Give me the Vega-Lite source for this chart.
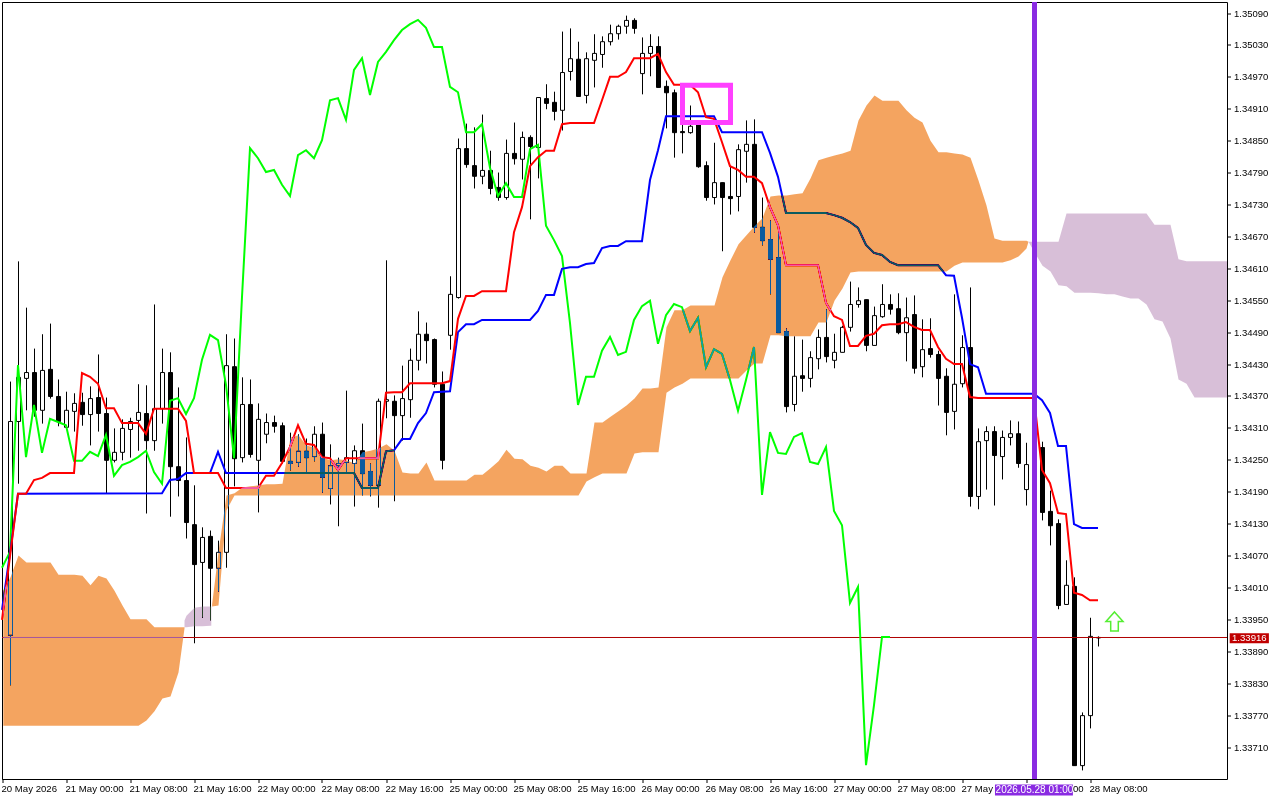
{"$schema":"https://vega.github.io/schema/vega-lite/v6.json","width":1225,"height":777,"autosize":{"type":"none"},"padding":{"left":2,"top":2,"right":53,"bottom":21},"background":"#ffffff","config":{"view":{"stroke":"#000000","strokeWidth":1},"axis":{"labelFont":"Liberation Sans","labelColor":"#000000","tickColor":"#000000","tickSize":4,"domain":false,"grid":false,"title":null,"translate":0,"labelOverlap":false,"labelSeparation":0}},
"datasets":{
"candles":[
{"i":1,"o":1.33921,"h":1.34398,"l":1.33827,"c":1.34323},{"i":2,"o":1.34323,"h":1.34624,"l":1.34206,"c":1.34406},{"i":3,"o":1.34404,"h":1.34537,"l":1.34344,"c":1.34415},{"i":4,"o":1.34415,"h":1.3446,"l":1.34332,"c":1.34344},{"i":5,"o":1.34344,"h":1.34487,"l":1.34319,"c":1.34419},{"i":6,"o":1.34421,"h":1.34507,"l":1.34366,"c":1.3437},{"i":7,"o":1.3437,"h":1.34402,"l":1.34314,"c":1.34323},{"i":8,"o":1.34312,"h":1.34379,"l":1.34312,"c":1.34344},{"i":9,"o":1.34342,"h":1.34376,"l":1.34304,"c":1.34357},{"i":10,"o":1.34359,"h":1.34377,"l":1.34315,"c":1.34336},
{"i":11,"o":1.34336,"h":1.34389,"l":1.34278,"c":1.34366},{"i":12,"o":1.34368,"h":1.34449,"l":1.34304,"c":1.34338},{"i":13,"o":1.34338,"h":1.34368,"l":1.34188,"c":1.3425},{"i":14,"o":1.3425,"h":1.3431,"l":1.34246,"c":1.34265},{"i":15,"o":1.34265,"h":1.34327,"l":1.3425,"c":1.3431},{"i":16,"o":1.34308,"h":1.3433,"l":1.34255,"c":1.34323},{"i":17,"o":1.34325,"h":1.34393,"l":1.34268,"c":1.3434},{"i":18,"o":1.34338,"h":1.34391,"l":1.3415,"c":1.34287},{"i":19,"o":1.34287,"h":1.34543,"l":1.34268,"c":1.34347},{"i":20,"o":1.34347,"h":1.3446,"l":1.34319,"c":1.34415},
{"i":21,"o":1.34415,"h":1.34453,"l":1.34144,"c":1.34238},{"i":22,"o":1.34238,"h":1.34387,"l":1.34182,"c":1.34212},{"i":23,"o":1.34212,"h":1.34293,"l":1.34103,"c":1.34133},{"i":24,"o":1.34129,"h":1.34203,"l":1.33906,"c":1.34054},{"i":25,"o":1.34058,"h":1.34124,"l":1.33954,"c":1.34105},{"i":26,"o":1.34107,"h":1.34118,"l":1.33949,"c":1.34047},{"i":27,"o":1.34047,"h":1.34099,"l":1.34003,"c":1.34077},{"i":28,"o":1.34077,"h":1.34487,"l":1.34048,"c":1.34428},{"i":29,"o":1.34426,"h":1.34479,"l":1.34201,"c":1.34253},{"i":30,"o":1.34255,"h":1.34406,"l":1.34246,"c":1.34355},
{"i":31,"o":1.34355,"h":1.34402,"l":1.34255,"c":1.34261},{"i":32,"o":1.3425,"h":1.34357,"l":1.34152,"c":1.34327},{"i":33,"o":1.34299,"h":1.34338,"l":1.34282,"c":1.34321},{"i":34,"o":1.34321,"h":1.34334,"l":1.34302,"c":1.34314},{"i":35,"o":1.34315,"h":1.34321,"l":1.34244,"c":1.34248},{"i":36,"o":1.34248,"h":1.34302,"l":1.34231,"c":1.34244},{"i":37,"o":1.34246,"h":1.34299,"l":1.34238,"c":1.34267},{"i":38,"o":1.34267,"h":1.34291,"l":1.34225,"c":1.34255},{"i":39,"o":1.34257,"h":1.34314,"l":1.34248,"c":1.34299},{"i":40,"o":1.34299,"h":1.34321,"l":1.34189,"c":1.34218},
{"i":41,"o":1.34197,"h":1.3428,"l":1.34167,"c":1.3424},{"i":42,"o":1.3424,"h":1.34255,"l":1.34126,"c":1.34244},{"i":43,"o":1.34246,"h":1.34381,"l":1.34227,"c":1.34255},{"i":44,"o":1.34244,"h":1.34278,"l":1.34163,"c":1.34268},{"i":45,"o":1.34268,"h":1.34319,"l":1.34184,"c":1.34225},{"i":46,"o":1.34229,"h":1.34244,"l":1.34182,"c":1.34203},{"i":47,"o":1.34203,"h":1.34366,"l":1.34161,"c":1.34361},{"i":48,"o":1.34361,"h":1.34626,"l":1.34329,"c":1.34364},{"i":49,"o":1.34361,"h":1.34372,"l":1.34173,"c":1.34334},{"i":50,"o":1.34334,"h":1.34428,"l":1.34287,"c":1.34366},
{"i":51,"o":1.34364,"h":1.3446,"l":1.3433,"c":1.34438},{"i":52,"o":1.34438,"h":1.3453,"l":1.34419,"c":1.34487},{"i":53,"o":1.34487,"h":1.34509,"l":1.34432,"c":1.34475},{"i":54,"o":1.34477,"h":1.34479,"l":1.34387,"c":1.34393},{"i":55,"o":1.34393,"h":1.34417,"l":1.34233,"c":1.3425},{"i":56,"o":1.34485,"h":1.34596,"l":1.34458,"c":1.34562},{"i":57,"o":1.34556,"h":1.34855,"l":1.34554,"c":1.34836},{"i":58,"o":1.34836,"h":1.34883,"l":1.348,"c":1.34806},{"i":59,"o":1.34804,"h":1.34876,"l":1.34761,"c":1.34784},{"i":60,"o":1.34784,"h":1.349,"l":1.34769,"c":1.34795},
{"i":61,"o":1.34795,"h":1.34832,"l":1.3475,"c":1.34761},{"i":62,"o":1.34763,"h":1.34791,"l":1.34738,"c":1.34744},{"i":63,"o":1.34744,"h":1.34853,"l":1.3474,"c":1.34827},{"i":64,"o":1.34827,"h":1.34885,"l":1.34806,"c":1.34817},{"i":65,"o":1.34816,"h":1.34868,"l":1.34778,"c":1.34857},{"i":66,"o":1.34857,"h":1.34861,"l":1.34703,"c":1.3484},{"i":67,"o":1.34838,"h":1.34932,"l":1.3478,"c":1.34932},{"i":68,"o":1.3493,"h":1.34957,"l":1.3491,"c":1.34921},{"i":69,"o":1.34923,"h":1.34943,"l":1.34889,"c":1.34906},{"i":70,"o":1.34908,"h":1.35056,"l":1.3487,"c":1.34979},
{"i":71,"o":1.34981,"h":1.35062,"l":1.34964,"c":1.35005},{"i":72,"o":1.35004,"h":1.35037,"l":1.34934,"c":1.34934},{"i":73,"o":1.34936,"h":1.35017,"l":1.34921,"c":1.35005},{"i":74,"o":1.35002,"h":1.35051,"l":1.34951,"c":1.35015},{"i":75,"o":1.35013,"h":1.35047,"l":1.34988,"c":1.35037},{"i":76,"o":1.35037,"h":1.35069,"l":1.3503,"c":1.35052},{"i":77,"o":1.35052,"h":1.35069,"l":1.35041,"c":1.35066},{"i":78,"o":1.35066,"h":1.35086,"l":1.35052,"c":1.35077},{"i":79,"o":1.35077,"h":1.35081,"l":1.35052,"c":1.35062},{"i":80,"o":1.34977,"h":1.35045,"l":1.34938,"c":1.35015},
{"i":81,"o":1.35015,"h":1.35051,"l":1.34972,"c":1.35028},{"i":82,"o":1.35028,"h":1.35047,"l":1.34951,"c":1.34951},{"i":83,"o":1.34953,"h":1.34964,"l":1.34874,"c":1.34941},{"i":84,"o":1.34941,"h":1.34947,"l":1.34819,"c":1.34866},{"i":85,"o":1.34868,"h":1.34902,"l":1.34827,"c":1.34866},{"i":86,"o":1.34866,"h":1.34917,"l":1.34864,"c":1.34878},{"i":87,"o":1.34885,"h":1.34885,"l":1.348,"c":1.34802},{"i":88,"o":1.34804,"h":1.34812,"l":1.34738,"c":1.34744},{"i":89,"o":1.34744,"h":1.34847,"l":1.34731,"c":1.34772},{"i":90,"o":1.34772,"h":1.34772,"l":1.34643,"c":1.34744},
{"i":91,"o":1.34746,"h":1.34804,"l":1.34712,"c":1.34742},{"i":92,"o":1.34746,"h":1.34844,"l":1.34718,"c":1.34834},{"i":93,"o":1.34831,"h":1.34889,"l":1.34772,"c":1.34844},{"i":94,"o":1.34844,"h":1.34891,"l":1.34678,"c":1.34688},{"i":95,"o":1.34688,"h":1.34744,"l":1.34654,"c":1.34663},{"i":96,"o":1.34665,"h":1.34701,"l":1.34562,"c":1.34628},{"i":97,"o":1.34631,"h":1.34678,"l":1.3449,"c":1.3449},{"i":98,"o":1.34492,"h":1.34498,"l":1.3434,"c":1.34351},{"i":99,"o":1.34355,"h":1.34483,"l":1.34342,"c":1.34408},{"i":100,"o":1.34409,"h":1.34477,"l":1.34379,"c":1.34404},
{"i":101,"o":1.34404,"h":1.34455,"l":1.34387,"c":1.34443},{"i":102,"o":1.34441,"h":1.34496,"l":1.34421,"c":1.34481},{"i":103,"o":1.34481,"h":1.34534,"l":1.34434,"c":1.34445},{"i":104,"o":1.34438,"h":1.34488,"l":1.34423,"c":1.34453},{"i":105,"o":1.34453,"h":1.34503,"l":1.34453,"c":1.345},{"i":106,"o":1.345,"h":1.34586,"l":1.34492,"c":1.34543},{"i":107,"o":1.34543,"h":1.34575,"l":1.34537,"c":1.3455},{"i":108,"o":1.34552,"h":1.34552,"l":1.34455,"c":1.34466},{"i":109,"o":1.34466,"h":1.34539,"l":1.34466,"c":1.34522},{"i":110,"o":1.3452,"h":1.34581,"l":1.34518,"c":1.34543},
{"i":111,"o":1.34543,"h":1.34562,"l":1.34524,"c":1.34534},{"i":112,"o":1.34535,"h":1.34564,"l":1.34487,"c":1.3449},{"i":113,"o":1.3449,"h":1.34556,"l":1.34436,"c":1.34518},{"i":114,"o":1.34524,"h":1.3456,"l":1.34413,"c":1.34423},{"i":115,"o":1.34426,"h":1.34515,"l":1.34406,"c":1.34458},{"i":116,"o":1.3446,"h":1.34517,"l":1.34443,"c":1.34449},{"i":117,"o":1.34449,"h":1.34456,"l":1.34353,"c":1.34404},{"i":118,"o":1.34408,"h":1.34423,"l":1.34297,"c":1.3434},{"i":119,"o":1.34342,"h":1.34562,"l":1.34308,"c":1.34393},{"i":120,"o":1.34394,"h":1.34485,"l":1.34387,"c":1.34462},
{"i":121,"o":1.34462,"h":1.34575,"l":1.34163,"c":1.34182},{"i":122,"o":1.34182,"h":1.3431,"l":1.34158,"c":1.34285},{"i":123,"o":1.34287,"h":1.34314,"l":1.34195,"c":1.34304},{"i":124,"o":1.34304,"h":1.34314,"l":1.34165,"c":1.34259},{"i":125,"o":1.34257,"h":1.34306,"l":1.34214,"c":1.34293},{"i":126,"o":1.34293,"h":1.34325,"l":1.34278,"c":1.343},{"i":127,"o":1.343,"h":1.34323,"l":1.34236,"c":1.34244},{"i":128,"o":1.34195,"h":1.34283,"l":1.34165,"c":1.34242},{"i":129,"o":1.34242,"h":1.34276,"l":1.3424,"c":1.34274},{"i":130,"o":1.34274,"h":1.34285,"l":1.34137,"c":1.34152},
{"i":131,"o":1.34154,"h":1.34193,"l":1.3409,"c":1.34127},{"i":132,"o":1.34131,"h":1.34139,"l":1.3397,"c":1.33977},{"i":133,"o":1.33979,"h":1.34062,"l":1.33979,"c":1.34015},{"i":134,"o":1.34013,"h":1.3403,"l":1.33676,"c":1.33676},{"i":135,"o":1.33676,"h":1.33776,"l":1.33667,"c":1.3377},{"i":136,"o":1.3377,"h":1.33954,"l":1.33746,"c":1.33919},{"i":137,"o":1.33917,"h":1.33919,"l":1.339,"c":1.33916}
],
"red":[{"i":0,"p":1.33949},{"i":1,"p":1.34069},{"i":2,"p":1.34186},{"i":3,"p":1.34186},{"i":4,"p":1.34212},{"i":5,"p":1.34216},{"i":6,"p":1.34225},{"i":9,"p":1.34225},{"i":10,"p":1.34413},{"i":11,"p":1.34406},{"i":12,"p":1.34393},{"i":13,"p":1.34347},{"i":14,"p":1.34347},{"i":15,"p":1.34319},{"i":17,"p":1.34319},{"i":18,"p":1.34299},{"i":19,"p":1.34346},{"i":22,"p":1.34346},{"i":23,"p":1.34323},{"i":24,"p":1.34225},{"i":27,"p":1.34225},{"i":28,"p":1.34197},{"i":32,"p":1.34197},{"i":33,"p":1.3422},{"i":34,"p":1.3422},{"i":35,"p":1.34244},{"i":36,"p":1.34274},{"i":37,"p":1.34315},{"i":38,"p":1.3428},{"i":39,"p":1.34278},{"i":40,"p":1.34255},{"i":41,"p":1.34253},{"i":42,"p":1.34231},{"i":43,"p":1.34253},{"i":47,"p":1.34253},{"i":48,"p":1.34376},{"i":49,"p":1.34377},{"i":50,"p":1.34377},{"i":51,"p":1.34394},{"i":55,"p":1.34394},{"i":56,"p":1.34398},{"i":57,"p":1.34515},{"i":58,"p":1.34558},{"i":59,"p":1.34558},{"i":60,"p":1.34567},{"i":63,"p":1.34567},{"i":64,"p":1.34678},{"i":65,"p":1.34725},{"i":66,"p":1.34802},{"i":67,"p":1.34819},{"i":68,"p":1.34831},{"i":69,"p":1.34831},{"i":70,"p":1.34881},{"i":71,"p":1.34883},{"i":74,"p":1.34883},{"i":75,"p":1.34926},{"i":76,"p":1.3497},{"i":77,"p":1.3497},{"i":78,"p":1.34979},{"i":79,"p":1.35005},{"i":81,"p":1.35005},{"i":82,"p":1.35013},{"i":83,"p":1.34979},{"i":84,"p":1.34955},{"i":86,"p":1.34955},{"i":87,"p":1.34941},{"i":88,"p":1.34894},{"i":89,"p":1.34891},{"i":90,"p":1.34847},{"i":91,"p":1.34802},{"i":92,"p":1.34795},{"i":93,"p":1.34782},{"i":94,"p":1.34782},{"i":95,"p":1.3477},{"i":96,"p":1.34725},{"i":97,"p":1.34691},{"i":98,"p":1.34616},{"i":102,"p":1.34616},{"i":103,"p":1.34545},{"i":104,"p":1.3452},{"i":105,"p":1.34513},{"i":106,"p":1.34464},{"i":107,"p":1.34464},{"i":108,"p":1.34483},{"i":109,"p":1.34487},{"i":110,"p":1.34503},{"i":111,"p":1.34505},{"i":112,"p":1.34505},{"i":113,"p":1.34509},{"i":114,"p":1.345},{"i":115,"p":1.34494},{"i":116,"p":1.34494},{"i":117,"p":1.34462},{"i":118,"p":1.3444},{"i":119,"p":1.3443},{"i":120,"p":1.3443},{"i":121,"p":1.34368},{"i":122,"p":1.34366},{"i":129,"p":1.34366},{"i":130,"p":1.34231},{"i":131,"p":1.34206},{"i":132,"p":1.3415},{"i":133,"p":1.34148},{"i":134,"p":1.34},{"i":135,"p":1.33996},{"i":136,"p":1.33986},{"i":137,"p":1.33986}],
"blue":[{"i":0,"p":1.33968},{"i":1,"p":1.34075},{"i":2,"p":1.34186},{"i":20,"p":1.34187},{"i":21,"p":1.34212},{"i":22,"p":1.34214},{"i":23,"p":1.34225},{"i":26,"p":1.34225},{"i":27,"p":1.34265},{"i":28,"p":1.34225},{"i":44,"p":1.34225},{"i":45,"p":1.34197},{"i":47,"p":1.34197},{"i":48,"p":1.34266},{"i":49,"p":1.34268},{"i":50,"p":1.34289},{"i":51,"p":1.34289},{"i":52,"p":1.34319},{"i":53,"p":1.34338},{"i":54,"p":1.34377},{"i":56,"p":1.34379},{"i":57,"p":1.3449},{"i":58,"p":1.34505},{"i":59,"p":1.34505},{"i":60,"p":1.34513},{"i":66,"p":1.34513},{"i":67,"p":1.3453},{"i":68,"p":1.3456},{"i":69,"p":1.3456},{"i":70,"p":1.34609},{"i":71,"p":1.34612},{"i":72,"p":1.34612},{"i":73,"p":1.34618},{"i":74,"p":1.3462},{"i":75,"p":1.34648},{"i":76,"p":1.34652},{"i":77,"p":1.34652},{"i":78,"p":1.34661},{"i":80,"p":1.34661},{"i":81,"p":1.34776},{"i":82,"p":1.34832},{"i":83,"p":1.34896},{"i":89,"p":1.34896},{"i":90,"p":1.34866},{"i":95,"p":1.34866},{"i":96,"p":1.34827},{"i":97,"p":1.34782},{"i":98,"p":1.34714},{"i":103,"p":1.34714},{"i":104,"p":1.3471},{"i":105,"p":1.34705},{"i":106,"p":1.34697},{"i":107,"p":1.34686},{"i":108,"p":1.34654},{"i":109,"p":1.34639},{"i":110,"p":1.34635},{"i":111,"p":1.34622},{"i":112,"p":1.34616},{"i":117,"p":1.34616},{"i":118,"p":1.34597},{"i":119,"p":1.34596},{"i":120,"p":1.34517},{"i":121,"p":1.3443},{"i":122,"p":1.34424},{"i":123,"p":1.34374},{"i":129,"p":1.34374},{"i":130,"p":1.34362},{"i":131,"p":1.34338},{"i":132,"p":1.34276},{"i":133,"p":1.34276},{"i":134,"p":1.34129},{"i":135,"p":1.34122},{"i":137,"p":1.34122}],
"green":[{"i":0,"p":1.34047},{"i":1,"p":1.34077},{"i":2,"p":1.34428},{"i":3,"p":1.34255},{"i":4,"p":1.34353},{"i":5,"p":1.34263},{"i":6,"p":1.34327},{"i":7,"p":1.34321},{"i":8,"p":1.34315},{"i":9,"p":1.34248},{"i":10,"p":1.34248},{"i":11,"p":1.34265},{"i":12,"p":1.34257},{"i":13,"p":1.34297},{"i":14,"p":1.3422},{"i":15,"p":1.3424},{"i":16,"p":1.34246},{"i":17,"p":1.34255},{"i":18,"p":1.34267},{"i":19,"p":1.34227},{"i":20,"p":1.34205},{"i":21,"p":1.34361},{"i":22,"p":1.34366},{"i":23,"p":1.34336},{"i":24,"p":1.34366},{"i":25,"p":1.34438},{"i":26,"p":1.34485},{"i":27,"p":1.34475},{"i":28,"p":1.34391},{"i":29,"p":1.34253},{"i":30,"p":1.34556},{"i":31,"p":1.34836},{"i":32,"p":1.34817},{"i":33,"p":1.34791},{"i":34,"p":1.34795},{"i":35,"p":1.34767},{"i":36,"p":1.34746},{"i":37,"p":1.34823},{"i":38,"p":1.34832},{"i":39,"p":1.34817},{"i":40,"p":1.34851},{"i":41,"p":1.34926},{"i":42,"p":1.3493},{"i":43,"p":1.34889},{"i":44,"p":1.34983},{"i":45,"p":1.35005},{"i":46,"p":1.34936},{"i":47,"p":1.34998},{"i":48,"p":1.35017},{"i":49,"p":1.35039},{"i":50,"p":1.35058},{"i":51,"p":1.35069},{"i":52,"p":1.35077},{"i":53,"p":1.35062},{"i":54,"p":1.35026},{"i":55,"p":1.35026},{"i":56,"p":1.34951},{"i":57,"p":1.34941},{"i":58,"p":1.34866},{"i":59,"p":1.34866},{"i":60,"p":1.34881},{"i":61,"p":1.34799},{"i":62,"p":1.34746},{"i":63,"p":1.3477},{"i":64,"p":1.34744},{"i":65,"p":1.34744},{"i":66,"p":1.34834},{"i":67,"p":1.34842},{"i":68,"p":1.3469},{"i":69,"p":1.34663},{"i":70,"p":1.34633},{"i":71,"p":1.34507},{"i":72,"p":1.34353},{"i":73,"p":1.34406},{"i":74,"p":1.34406},{"i":75,"p":1.34455},{"i":76,"p":1.34481},{"i":77,"p":1.34447},{"i":78,"p":1.34453},{"i":79,"p":1.34513},{"i":80,"p":1.34539},{"i":81,"p":1.34549},{"i":82,"p":1.34468},{"i":83,"p":1.34522},{"i":84,"p":1.34543},{"i":85,"p":1.34537},{"i":86,"p":1.34492},{"i":87,"p":1.34517},{"i":88,"p":1.34424},{"i":89,"p":1.34458},{"i":90,"p":1.34449},{"i":91,"p":1.344},{"i":92,"p":1.34342},{"i":93,"p":1.344},{"i":94,"p":1.34462},{"i":95,"p":1.34184},{"i":96,"p":1.34302},{"i":97,"p":1.34263},{"i":98,"p":1.34261},{"i":99,"p":1.34293},{"i":100,"p":1.343},{"i":101,"p":1.34246},{"i":102,"p":1.34242},{"i":103,"p":1.34274},{"i":104,"p":1.34154},{"i":105,"p":1.34127},{"i":106,"p":1.33981},{"i":107,"p":1.34011},{"i":108,"p":1.33676},{"i":109,"p":1.33789},{"i":110,"p":1.33917},{"i":111,"p":1.33917}],
"orange1":[{"i":0.1,"a":1.34005,"b":1.33751},{"i":1,"a":1.3403,"b":1.33751},{"i":2,"a":1.34071,"b":1.33751},{"i":3,"a":1.34058,"b":1.33751},{"i":6,"a":1.34058,"b":1.33751},{"i":7,"a":1.34035,"b":1.33751},{"i":9,"a":1.34035,"b":1.33751},{"i":10,"a":1.34033,"b":1.33751},{"i":11,"a":1.34015,"b":1.33751},{"i":12,"a":1.34033,"b":1.33751},{"i":13,"a":1.34028,"b":1.33751},{"i":14,"a":1.34005,"b":1.33751},{"i":15,"a":1.33977,"b":1.33751},{"i":16,"a":1.33951,"b":1.33751},{"i":17,"a":1.33951,"b":1.33751},{"i":18,"a":1.33951,"b":1.33761},{"i":19,"a":1.33936,"b":1.33778},{"i":20,"a":1.33936,"b":1.33802},{"i":21,"a":1.33936,"b":1.33806},{"i":22,"a":1.33936,"b":1.33851},{"i":22.75,"a":1.33936,"b":1.33934}],
"orange2":[{"i":26.2,"a":1.33979,"b":1.33975},{"i":27,"a":1.34077,"b":1.33977},{"i":28,"a":1.34184,"b":1.34156},{"i":29,"a":1.34188,"b":1.34184},{"i":30,"a":1.34199,"b":1.34184},{"i":31,"a":1.34201,"b":1.34184},{"i":32,"a":1.34203,"b":1.34184},{"i":33,"a":1.34205,"b":1.34184},{"i":34,"a":1.34205,"b":1.34184},{"i":35,"a":1.34206,"b":1.34184},{"i":36,"a":1.34293,"b":1.34184},{"i":37,"a":1.34297,"b":1.34184},{"i":38,"a":1.34278,"b":1.34184},{"i":39,"a":1.34274,"b":1.34184},{"i":40,"a":1.34255,"b":1.34184},{"i":41,"a":1.3425,"b":1.34184},{"i":42,"a":1.34252,"b":1.34184},{"i":43,"a":1.3425,"b":1.34184},{"i":44,"a":1.34244,"b":1.34184},{"i":45,"a":1.34265,"b":1.34184},{"i":46,"a":1.34268,"b":1.34184},{"i":47,"a":1.34272,"b":1.34184},{"i":48,"a":1.3428,"b":1.34184},{"i":49,"a":1.34268,"b":1.34184},{"i":50,"a":1.34227,"b":1.34184},{"i":51,"a":1.34225,"b":1.34184},{"i":52,"a":1.34225,"b":1.34184},{"i":53,"a":1.34246,"b":1.34184},{"i":54,"a":1.34212,"b":1.34184},{"i":58,"a":1.34212,"b":1.34184},{"i":59,"a":1.34223,"b":1.34184},{"i":60,"a":1.34223,"b":1.34184},{"i":61,"a":1.34235,"b":1.34184},{"i":62,"a":1.34248,"b":1.34184},{"i":63,"a":1.3427,"b":1.34184},{"i":64,"a":1.34253,"b":1.34184},{"i":65,"a":1.34252,"b":1.34184},{"i":66,"a":1.3424,"b":1.34184},{"i":67,"a":1.34236,"b":1.34184},{"i":68,"a":1.34229,"b":1.34184},{"i":69,"a":1.3424,"b":1.34184},{"i":70,"a":1.3424,"b":1.34184},{"i":71,"a":1.34225,"b":1.34184},{"i":72,"a":1.34225,"b":1.34184},{"i":73,"a":1.34225,"b":1.3421},{"i":74,"a":1.34321,"b":1.34218},{"i":75,"a":1.34321,"b":1.34225},{"i":76,"a":1.34332,"b":1.34225},{"i":77,"a":1.34342,"b":1.34225},{"i":78,"a":1.34353,"b":1.34225},{"i":79,"a":1.34366,"b":1.34263},{"i":80,"a":1.34385,"b":1.34265},{"i":81,"a":1.34385,"b":1.34265},{"i":82,"a":1.34387,"b":1.34265},{"i":83,"a":1.345,"b":1.34377},{"i":84,"a":1.34532,"b":1.34387},{"i":85,"a":1.34532,"b":1.34394},{"i":86,"a":1.34541,"b":1.34404},{"i":89,"a":1.34541,"b":1.34404},{"i":90,"a":1.34594,"b":1.34404},{"i":91,"a":1.34626,"b":1.34404},{"i":92,"a":1.34656,"b":1.34404},{"i":93,"a":1.34673,"b":1.34419},{"i":94,"a":1.3469,"b":1.34432},{"i":95,"a":1.34705,"b":1.34432},{"i":96,"a":1.34746,"b":1.34485},{"i":97,"a":1.34748,"b":1.34485},{"i":98,"a":1.34748,"b":1.34483},{"i":99,"a":1.3475,"b":1.34483},{"i":100,"a":1.34752,"b":1.34483},{"i":101,"a":1.3478,"b":1.34483},{"i":102,"a":1.34814,"b":1.34509},{"i":103,"a":1.34819,"b":1.34509},{"i":104,"a":1.34823,"b":1.3455},{"i":105,"a":1.34827,"b":1.34573},{"i":106,"a":1.34832,"b":1.34603},{"i":107,"a":1.34889,"b":1.34605},{"i":108,"a":1.34917,"b":1.34605},{"i":109,"a":1.34936,"b":1.34605},{"i":110,"a":1.34926,"b":1.34605},{"i":112,"a":1.34926,"b":1.34605},{"i":113,"a":1.34908,"b":1.34605},{"i":114,"a":1.34894,"b":1.34605},{"i":115,"a":1.34885,"b":1.34605},{"i":116,"a":1.34851,"b":1.34605},{"i":117,"a":1.34829,"b":1.34605},{"i":118,"a":1.34829,"b":1.34605},{"i":119,"a":1.34827,"b":1.34616},{"i":120,"a":1.34825,"b":1.34622},{"i":121,"a":1.34819,"b":1.34622},{"i":122,"a":1.34776,"b":1.34622},{"i":123,"a":1.34729,"b":1.34622},{"i":124,"a":1.34667,"b":1.34622},{"i":125,"a":1.34663,"b":1.34622},{"i":126,"a":1.34663,"b":1.34626},{"i":127,"a":1.34663,"b":1.34633},{"i":128,"a":1.34663,"b":1.34648},{"i":128.25,"a":1.34661,"b":1.34661}],
"lilac1":[{"i":22.75,"a":1.33949,"b":1.33936},{"i":23,"a":1.33958,"b":1.33936},{"i":24,"a":1.33973,"b":1.33938},{"i":25,"a":1.33975,"b":1.33938},{"i":26,"a":1.33975,"b":1.33939},{"i":26.1,"a":1.33975,"b":1.33939}],
"lilac2":[{"i":128.25,"a":1.34661,"b":1.34661},{"i":129,"a":1.34661,"b":1.34641},{"i":130,"a":1.34661,"b":1.34616},{"i":131,"a":1.34661,"b":1.34605},{"i":132,"a":1.34661,"b":1.34579},{"i":133,"a":1.34714,"b":1.34577},{"i":134,"a":1.34714,"b":1.34565},{"i":136,"a":1.34714,"b":1.34565},{"i":137,"a":1.34714,"b":1.34564},{"i":138,"a":1.34714,"b":1.34562},{"i":139,"a":1.34714,"b":1.34562},{"i":140,"a":1.34714,"b":1.34558},{"i":141,"a":1.34714,"b":1.34554},{"i":142,"a":1.34714,"b":1.34554},{"i":143,"a":1.34714,"b":1.34543},{"i":144,"a":1.34693,"b":1.34515},{"i":145,"a":1.34693,"b":1.34511},{"i":146,"a":1.34693,"b":1.34479},{"i":147,"a":1.34628,"b":1.34402},{"i":148,"a":1.34624,"b":1.34394},{"i":149,"a":1.34624,"b":1.34368},{"i":153.0625,"a":1.34624,"b":1.34368}]
},
"encoding":{"x":{"field":"i","type":"quantitative","scale":{"domain":[-0.0625,153.0625],"nice":false,"zero":false,"padding":0},"axis":{"orient":"bottom","values":[0,8,16,24,32,40,48,56,64,72,80,88,96,104,112,120,128,136],"labelExpr":"['20 May 2026','21 May 00:00','21 May 08:00','21 May 16:00','22 May 00:00','22 May 08:00','22 May 16:00','25 May 00:00','25 May 08:00','25 May 16:00','26 May 00:00','26 May 08:00','26 May 16:00','27 May 00:00','27 May 08:00','27 May 16:00','28 May 00:00','28 May 08:00'][datum.value/8]","labelAlign":"left","labelFontSize":9.6,"labelPadding":1,"labelOffset":-1,"labelOverlap":false,"labelFlush":false}}},
"layer":[
{"data":{"name":"candles"},"mark":{"type":"rule","color":"#000000","strokeWidth":1},"encoding":{"y":{"field":"l","type":"quantitative","title":null,"scale":{"domain":[1.3365086,1.3511162],"nice":false,"zero":false},"axis":{"orient":"right","tickCount":30,"values":[1.3509,1.3503,1.3497,1.3491,1.3485,1.3479,1.3473,1.3467,1.3461,1.3455,1.3449,1.3443,1.3437,1.3431,1.3425,1.3419,1.3413,1.3407,1.3401,1.3395,1.3389,1.3383,1.3377,1.3371],"format":".5f","labelFontSize":9.5,"labelPadding":3,"labelOverlap":false,"labelFlush":false}},"y2":{"field":"h"}}},
{"data":{"name":"candles"},"mark":{"type":"bar","size":4,"orient":"vertical","stroke":"#000000","strokeWidth":1},"encoding":{"y":{"field":"o","type":"quantitative","title":null,"scale":{"domain":[1.3365086,1.3511162],"nice":false,"zero":false}},"y2":{"field":"c"},"fill":{"condition":{"test":"datum.c>=datum.o","value":"#ffffff"},"value":"#000000"}}},
{"data":{"values":[{"p":1.339169}]},"mark":{"type":"rule","color":"#B00000","strokeWidth":1},"encoding":{"x":{"value":0},"x2":{"value":1225},"y":{"field":"p","type":"quantitative","title":null,"scale":{"domain":[1.3365086,1.3511162],"nice":false,"zero":false}}}},
{"data":{"name":"green"},"mark":{"type":"line","color":"#00FF00","strokeWidth":2,"xOffset":-0.5,"yOffset":-0.5},"encoding":{"y":{"field":"p","type":"quantitative","title":null,"scale":{"domain":[1.3365086,1.3511162],"nice":false,"zero":false}}}},
{"data":{"name":"blue"},"mark":{"type":"line","color":"#0000FF","strokeWidth":2,"xOffset":-0.5,"yOffset":-0.5},"encoding":{"y":{"field":"p","type":"quantitative","title":null,"scale":{"domain":[1.3365086,1.3511162],"nice":false,"zero":false}}}},
{"data":{"name":"red"},"mark":{"type":"line","color":"#FF0000","strokeWidth":2,"xOffset":-0.5,"yOffset":-0.5},"encoding":{"y":{"field":"p","type":"quantitative","title":null,"scale":{"domain":[1.3365086,1.3511162],"nice":false,"zero":false}}}},
{"data":{"name":"orange1"},"mark":{"type":"area","color":"#0B5B9F","blend":"difference","opacity":1},"encoding":{"y":{"field":"a","type":"quantitative","title":null,"scale":{"domain":[1.3365086,1.3511162],"nice":false,"zero":false}},"y2":{"field":"b"}}},
{"data":{"name":"orange2"},"mark":{"type":"area","color":"#0B5B9F","blend":"difference","opacity":1},"encoding":{"y":{"field":"a","type":"quantitative","title":null,"scale":{"domain":[1.3365086,1.3511162],"nice":false,"zero":false}},"y2":{"field":"b"}}},
{"data":{"name":"lilac1"},"mark":{"type":"area","color":"#274027","blend":"difference","opacity":1},"encoding":{"y":{"field":"a","type":"quantitative","title":null,"scale":{"domain":[1.3365086,1.3511162],"nice":false,"zero":false}},"y2":{"field":"b"}}},
{"data":{"name":"lilac2"},"mark":{"type":"area","color":"#274027","blend":"difference","opacity":1},"encoding":{"y":{"field":"a","type":"quantitative","title":null,"scale":{"domain":[1.3365086,1.3511162],"nice":false,"zero":false}},"y2":{"field":"b"}}},
{"data":{"values":[{"i":85,"i2":91,"p":1.34955,"p2":1.34885}]},"mark":{"type":"rect","fill":"transparent","stroke":"#FF40FF","strokeWidth":5},"encoding":{"x2":{"field":"i2"},"y":{"field":"p","type":"quantitative","title":null,"scale":{"domain":[1.3365086,1.3511162],"nice":false,"zero":false}},"y2":{"field":"p2"}}},
{"data":{"values":[{"i":129}]},"mark":{"type":"rule","color":"#8A2BE2","strokeWidth":5},"encoding":{}},
{"data":{"values":[{"i":139,"p":1.33947}]},"mark":{"type":"point","shape":"M0,-1L0.9,0L0.4,0L0.4,1L-0.4,1L-0.4,0L-0.9,0Z","size":361,"filled":false,"stroke":"#55EE33","strokeWidth":1.5,"opacity":1},"encoding":{"y":{"field":"p","type":"quantitative","title":null,"scale":{"domain":[1.3365086,1.3511162],"nice":false,"zero":false}}}},
{"data":{"values":[{"i":124.06,"i2":133.8,"p":1.336405,"p2":1.336198}]},"mark":{"type":"rect","fill":"#8A2BE2"},"encoding":{"x2":{"field":"i2"},"y":{"field":"p","type":"quantitative","title":null,"scale":{"domain":[1.3365086,1.3511162],"nice":false,"zero":false}},"y2":{"field":"p2"}}},
{"data":{"values":[{"i":129,"p":1.3363,"t":"2026.05.28 01:00"}]},"mark":{"type":"text","color":"#ffffff","font":"Liberation Sans","fontSize":10,"align":"center","baseline":"middle"},"encoding":{"y":{"field":"p","type":"quantitative","title":null,"scale":{"domain":[1.3365086,1.3511162],"nice":false,"zero":false}},"text":{"field":"t"}}},
{"data":{"values":[{"i":153.4,"i2":158.3,"p":1.33925,"p2":1.33906}]},"mark":{"type":"rect","fill":"#C00000"},"encoding":{"x2":{"field":"i2"},"y":{"field":"p","type":"quantitative","title":null,"scale":{"domain":[1.3365086,1.3511162],"nice":false,"zero":false}},"y2":{"field":"p2"}}},
{"data":{"values":[{"i":155.85,"p":1.33916,"t":"1.33916"}]},"mark":{"type":"text","color":"#ffffff","font":"Liberation Sans","fontSize":9.6,"align":"center","baseline":"middle"},"encoding":{"y":{"field":"p","type":"quantitative","title":null,"scale":{"domain":[1.3365086,1.3511162],"nice":false,"zero":false}},"text":{"field":"t"}}}
]}
